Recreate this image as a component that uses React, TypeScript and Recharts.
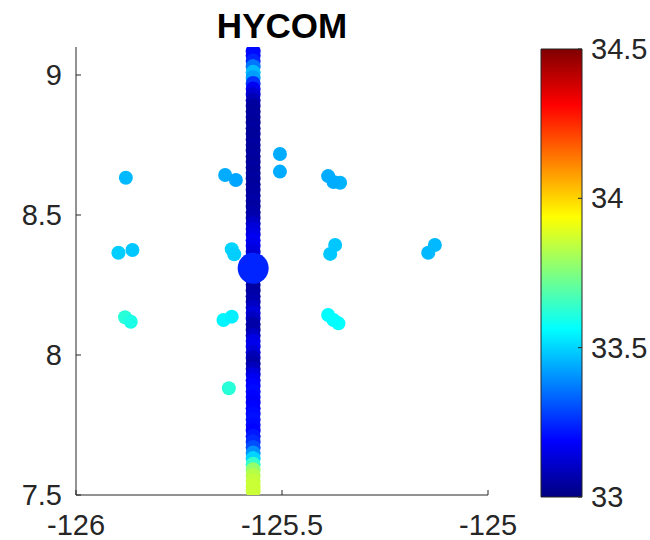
import React from "react";
import { ScatterChart, Scatter, XAxis, YAxis, BarChart, Bar } from "recharts";

// track longitude of the vertical profile
const TRACK_LON = -125.57;

// latitudes along the track (top to bottom) and model salinity at each
const TRACK_LAT = [
  9.085, 9.07, 9.05, 9.03, 9.01, 8.99, 8.97, 8.95, 8.93, 8.91,
  8.89, 8.87, 8.85, 8.83, 8.81, 8.79, 8.77, 8.75, 8.73, 8.71,
  8.69, 8.67, 8.65, 8.63, 8.61, 8.59, 8.57, 8.55, 8.53, 8.51,
  8.49, 8.47, 8.45, 8.43, 8.41, 8.39, 8.37, 8.35, 8.33, 8.31,
  8.29, 8.27, 8.25, 8.23, 8.21, 8.19, 8.17, 8.15, 8.13, 8.11,
  8.09, 8.07, 8.05, 8.03, 8.01, 7.99, 7.97, 7.95, 7.93, 7.91,
  7.89, 7.87, 7.85, 7.83, 7.81, 7.79, 7.77, 7.75, 7.73, 7.71,
  7.69, 7.67, 7.65, 7.63, 7.61, 7.59, 7.57, 7.55, 7.53, 7.515,
];
const TRACK_SAL = [
  33.2, 33.2, 33.24, 33.36, 33.46, 33.42, 33.26, 33.17, 33.12, 33.08,
  33.05, 33.04, 33.05, 33.04, 33.05, 33.04, 33.04, 33.05, 33.04, 33.05,
  33.04, 33.05, 33.04, 33.05, 33.04, 33.05, 33.05, 33.06, 33.05, 33.06,
  33.07, 33.1, 33.13, 33.15, 33.17, 33.16, 33.14, 33.12, 33.1, 33.09,
  33.06, 33.06, 33.05, 33.05, 33.06, 33.07, 33.1, 33.13, 33.1, 33.06,
  33.06, 33.1, 33.15, 33.16, 33.13, 33.08, 33.06, 33.09, 33.14, 33.17,
  33.19, 33.2, 33.19, 33.18, 33.19, 33.2, 33.21, 33.2, 33.19, 33.22,
  33.25, 33.3, 33.4, 33.5, 33.64, 33.78, 33.83, 33.85, 33.86, 33.86,
];

// surrounding sample points
const GRID_LON = [
  -125.879, -125.897, -125.863, -125.881, -125.867,
  -125.638, -125.612, -125.622, -125.616, -125.642, -125.622, -125.629,
  -125.505, -125.505,
  -125.388, -125.359, -125.375, -125.371, -125.383, -125.388, -125.363, -125.375,
  -125.129, -125.145,
];
const GRID_LAT = [
  8.633, 8.365, 8.375, 8.135, 8.119,
  8.643, 8.625, 8.378, 8.36, 8.125, 8.137, 7.881,
  8.718, 8.655,
  8.639, 8.615, 8.618, 8.393, 8.361, 8.143, 8.113, 8.125,
  8.393, 8.365,
];
const GRID_SAL = [
  33.46, 33.49, 33.48, 33.62, 33.6,
  33.44, 33.43, 33.5, 33.49, 33.55, 33.54, 33.62,
  33.44, 33.44,
  33.44, 33.45, 33.44, 33.48, 33.48, 33.56, 33.57, 33.56,
  33.46, 33.46,
];

// the highlighted station
const STATION = [{ lon: -125.57, lat: 8.31, sal: 33.24 }];

const X_TICKS = [-126, -125.5, -125];
const Y_TICKS = [7.5, 8, 8.5, 9];
const CB_TICKS = [33, 33.5, 34, 34.5];
const CB_MIN = 33;
const CB_MAX = 34.5;

// jet anchor positions, top of the colour bar first
const JET_STOPS = [1, 0.875, 0.625, 0.375, 0.125, 0];

const INK = "#262626";
const FONT = "'Liberation Sans', Arial, Helvetica, sans-serif";

function jet(v: number) {
  const t = Math.min(1, Math.max(0, (v - CB_MIN) / (CB_MAX - CB_MIN)));
  const c = (x: number) => Math.round(Math.min(1, Math.max(0, x)) * 255);
  const r = c(1.5 - Math.abs(4 * t - 3));
  const g = c(1.5 - Math.abs(4 * t - 2));
  const b = c(1.5 - Math.abs(4 * t - 1));
  return `rgb(${r},${g},${b})`;
}

const trackData = TRACK_LAT.map((lat, i) => ({ lon: TRACK_LON, lat, sal: TRACK_SAL[i] }));
const gridData = GRID_LON.map((lon, i) => ({ lon, lat: GRID_LAT[i], sal: GRID_SAL[i] }));

const dot = (r: number) => (p: any) => {
  const sal = p.payload?.sal ?? p.sal;
  return <circle cx={p.cx} cy={p.cy} r={r} fill={jet(sal)} />;
};

const fmt = (v: number) => String(v);

const XTick = (p: any) => (
  <g>
    <line x1={p.x} y1={p.y} x2={p.x} y2={p.y - 5} stroke={INK} />
    <text x={p.x} y={p.y + 40} textAnchor="middle" fill={INK} fontSize={29} fontFamily={FONT}>
      {fmt(p.payload.value)}
    </text>
  </g>
);

const YTick = (p: any) => (
  <g>
    <line x1={p.x} y1={p.y} x2={p.x + 5} y2={p.y} stroke={INK} />
    <text x={p.x - 14} y={p.y + 10} textAnchor="end" fill={INK} fontSize={29} fontFamily={FONT}>
      {fmt(p.payload.value)}
    </text>
  </g>
);

const CbTick = (p: any) => (
  <g>
    <line x1={p.x - 4} y1={p.y} x2={p.x} y2={p.y} stroke={INK} />
    <text x={p.x + 9} y={p.y + 10} textAnchor="start" fill={INK} fontSize={29} fontFamily={FONT}>
      {fmt(p.payload.value)}
    </text>
  </g>
);

export default function App() {
  return (
    <div style={{ position: "absolute", left: 0, top: 0, width: 650, height: 540, background: "#fff" }}>
      <div
        style={{
          position: "absolute", left: 76, top: 8, width: 412, textAlign: "center",
          fontFamily: FONT, fontWeight: "bold", fontSize: 35, lineHeight: "35px", color: "#000",
        }}
      >
        HYCOM
      </div>
      <div style={{ position: "absolute", left: 0, top: 0 }}>
        <ScatterChart width={520} height={540} margin={{ top: 47, right: 32, left: 16, bottom: 0 }}>
          <XAxis
            type="number" dataKey="lon" domain={[-126, -125]} ticks={X_TICKS} height={45}
            axisLine={{ stroke: INK }} tickLine={false} tickSize={0} tickMargin={0} tick={<XTick />}
            allowDataOverflow
          />
          <YAxis
            type="number" dataKey="lat" domain={[7.5, 9.1]} ticks={Y_TICKS} width={60}
            axisLine={{ stroke: INK }} tickLine={false} tickSize={0} tickMargin={0} tick={<YTick />}
            allowDataOverflow
          />
          <Scatter data={gridData} shape={dot(7)} isAnimationActive={false} />
          <Scatter data={trackData} shape={dot(7.5)} isAnimationActive={false} />
          <Scatter data={STATION} shape={dot(15.5)} isAnimationActive={false} />
        </ScatterChart>
      </div>
      <div style={{ position: "absolute", left: 530, top: 0 }}>
        <BarChart
          width={120} height={540} data={[{ name: "cb", range: [CB_MIN, CB_MAX] }]}
          margin={{ top: 49, right: 0, left: 11, bottom: 43 }} barCategoryGap={0}
        >
          <defs>
            <linearGradient id="jetGrad" x1="0" y1="0" x2="0" y2="1">
              {JET_STOPS.map((t) => (
                <stop key={t} offset={1 - t} stopColor={jet(CB_MIN + t * (CB_MAX - CB_MIN))} />
              ))}
            </linearGradient>
          </defs>
          <XAxis dataKey="name" hide />
          <YAxis
            orientation="right" type="number" domain={[CB_MIN, CB_MAX]} ticks={CB_TICKS} width={68}
            axisLine={false} tickLine={false} tickSize={0} tickMargin={0} tick={<CbTick />}
          />
          <Bar dataKey="range" fill="url(#jetGrad)" stroke={INK} strokeWidth={1} isAnimationActive={false} />
        </BarChart>
      </div>
    </div>
  );
}
